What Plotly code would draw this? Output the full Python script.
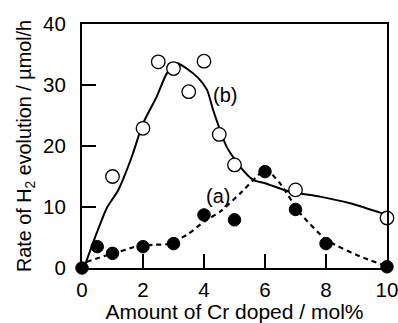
import plotly.graph_objects as go

# Measured points
a_x = [0.0, 0.5, 1.0, 2.0, 3.0, 4.0, 5.0, 6.0, 7.0, 8.0, 10.0]
a_y = [0.0, 3.5, 2.4, 3.5, 4.0, 8.7, 7.9, 15.8, 9.6, 4.0, 0.2]

b_x = [1.0, 2.0, 2.5, 3.0, 3.5, 4.0, 4.5, 5.0, 7.0, 10.0]
b_y = [15.0, 22.9, 33.8, 32.7, 28.9, 33.9, 21.9, 16.9, 12.8, 8.2]

# Guide curves
fit_b_x = [0.1, 0.48, 0.81, 1.19, 1.63, 2.0, 2.45, 2.78, 3.1, 3.43, 3.8, 4.1, 4.3, 4.74, 5.18, 5.62, 6.0, 6.82, 7.8, 8.79, 10.0]
fit_b_y = [0.5, 5.7, 9.8, 12.8, 18.2, 23.7, 28.1, 31.9, 33.6, 32.7, 31.2, 29.2, 25.9, 19.9, 16.6, 14.4, 13.9, 12.5, 11.7, 10.6, 8.7]

fit_a_x = [0.15, 0.81, 1.25, 1.68, 2.34, 2.77, 3.43, 4.0, 4.52, 5.18, 5.84, 6.05, 6.49, 7.15, 8.02, 9.11, 9.88]
fit_a_y = [1.0, 2.1, 2.7, 3.4, 3.8, 3.9, 5.4, 7.6, 9.2, 12.2, 15.5, 16.1, 13.9, 9.0, 4.6, 1.9, 0.5]

x_ticks = [0, 2, 4, 6, 8, 10]
y_ticks = [0, 10, 20, 30, 40]

FONT = "Liberation Sans, Arial, sans-serif"

fig = go.Figure()
fig.add_trace(go.Scatter(x=fit_b_x, y=fit_b_y, mode="lines",
                         line=dict(color="black", width=2, shape="spline", smoothing=0.6),
                         hoverinfo="skip", cliponaxis=False))
fig.add_trace(go.Scatter(x=fit_a_x, y=fit_a_y, mode="lines",
                         line=dict(color="black", width=2.2, dash="5px,4px", shape="spline", smoothing=0.6),
                         hoverinfo="skip", cliponaxis=False))
fig.add_trace(go.Scatter(x=b_x, y=b_y, mode="markers",
                         marker=dict(size=13.5, color="white", line=dict(color="black", width=1.3)),
                         cliponaxis=False))
fig.add_trace(go.Scatter(x=a_x, y=a_y, mode="markers",
                         marker=dict(size=12.5, color="black", line=dict(color="black", width=1)),
                         cliponaxis=False))

fig.add_annotation(x=4.69, y=28.4, text="(b)", showarrow=False,
                   font=dict(family=FONT, size=20, color="black"))
fig.add_annotation(x=4.46, y=11.8, text="(a)", showarrow=False,
                   font=dict(family=FONT, size=20, color="black"))

fig.update_layout(
    width=398, height=323,
    margin=dict(l=82, r=11, t=24, b=55),
    paper_bgcolor="white", plot_bgcolor="white",
    showlegend=False,
    font=dict(family=FONT, color="black"),
)
fig.update_xaxes(range=[0, 10], tickvals=x_ticks, ticks="inside", ticklen=14, tickwidth=2,
                 tickcolor="black", showline=True, linewidth=2, linecolor="black", mirror=True,
                 showgrid=False, zeroline=False, tickfont=dict(size=20.5), ticklabelstandoff=2,
                 automargin=False, ticklabeloverflow="allow",
                 title=dict(text="Amount of Cr doped / mol%", font=dict(size=21), standoff=9))
fig.update_yaxes(range=[0, 40], tickvals=y_ticks, ticks="inside", ticklen=14, tickwidth=2,
                 tickcolor="black", showline=True, linewidth=2, linecolor="black", mirror=True,
                 showgrid=False, zeroline=False, tickfont=dict(size=20.5), ticklabelstandoff=10,
                 automargin=False, ticklabeloverflow="allow",
                 title=dict(text="Rate of H<sub>2</sub> evolution / µmol/h", font=dict(size=19.8), standoff=6))

fig.write_html("out.html")
